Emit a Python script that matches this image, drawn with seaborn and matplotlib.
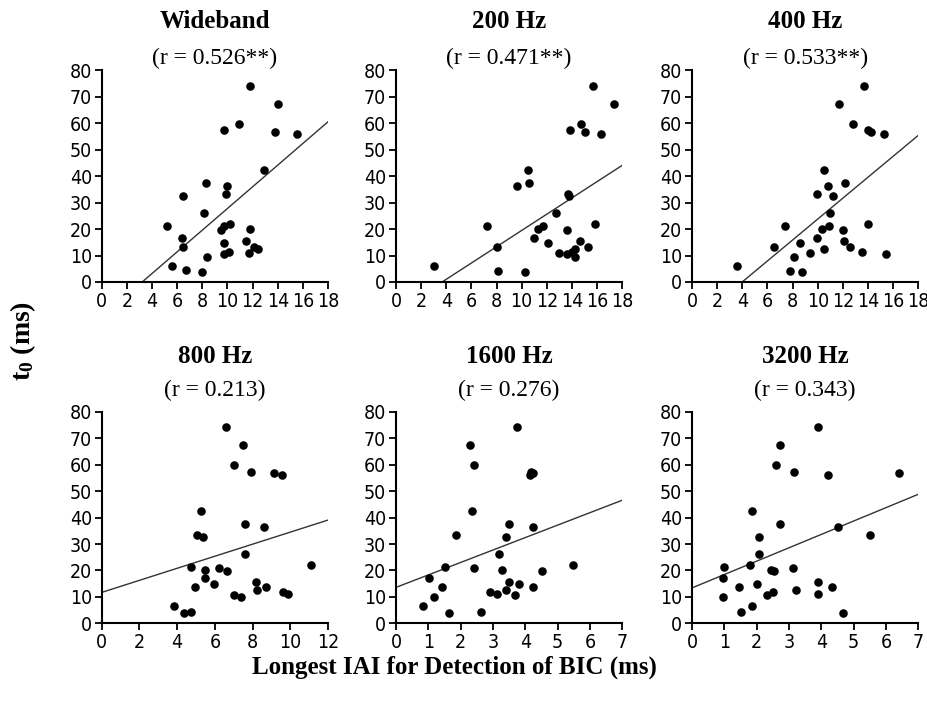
import numpy as np
import pandas as pd
import matplotlib
matplotlib.use("Agg")
import matplotlib.pyplot as plt
import seaborn as sns

# valori (IAI piu' lungo vs t0)
wideband_x = [5.2, 5.6, 6.5, 6.4, 6.5, 6.7, 8.3, 8.1, 8.0, 8.4, 9.7, 10.9, 11.8, 14.0, 13.8, 15.5, 12.9, 10.0, 9.9, 9.5,
              9.7, 10.2, 9.7, 9.7, 10.1, 11.8, 11.5, 11.7, 12.1, 12.4]
wideband_y = [21.3, 6.2, 32.7, 16.6, 13.4, 4.4, 37.3, 26.2, 3.8, 9.4, 57.3, 59.6, 74.3, 67.4, 56.8, 56.0, 42.4, 36.3, 33.2, 19.5,
              21.0, 21.9, 14.7, 10.7, 11.2, 19.9, 15.5, 11.0, 13.2, 12.5]

hz200_x = [3.0, 7.2, 8.0, 8.1, 9.65, 10.5, 10.6, 10.3, 11.0, 11.3, 11.7, 12.1, 12.7, 13.0, 13.6, 13.7, 13.75, 13.8, 13.6, 14.0,
           14.2, 14.2, 14.7, 15.0, 14.6, 15.3, 15.7, 15.8, 16.3, 17.3]
hz200_y = [6.2, 21.3, 13.4, 4.3, 36.3, 42.4, 37.3, 3.8, 16.6, 19.9, 21.0, 14.7, 26.2, 11.0, 19.5, 33.2, 32.7, 57.3, 10.7, 11.2,
           9.4, 12.5, 59.6, 56.8, 15.5, 13.2, 74.3, 21.9, 56.0, 67.4]

hz400_x = [3.6, 6.55, 7.4, 7.8, 8.1, 8.6, 8.75, 9.4, 9.95, 9.95, 10.35, 10.5, 10.5, 10.8, 10.9, 11.2, 11.0, 11.7, 12.0, 12.1,
           12.2, 12.55, 12.8, 13.7, 13.55, 14.0, 14.2, 14.0, 15.3, 15.4]
hz400_y = [6.2, 13.4, 21.3, 4.3, 9.4, 14.7, 3.8, 11.0, 33.2, 16.6, 19.9, 42.4, 12.5, 36.3, 21.0, 32.7, 26.2, 67.4, 19.5, 15.5,
           37.3, 13.2, 59.6, 74.3, 11.2, 57.3, 56.8, 21.9, 56.0, 10.7]

hz800_x = [3.85, 4.36, 4.76, 4.74, 4.94, 5.03, 5.24, 5.38, 5.5, 5.5, 5.94, 6.2, 6.58, 6.65, 7.0, 7.0, 7.4, 7.5, 7.6, 7.6,
           7.9, 8.2, 8.24, 8.73, 8.62, 9.14, 9.58, 9.6, 9.86, 11.1]
hz800_y = [6.5, 4.0, 4.3, 21.4, 13.6, 33.3, 42.5, 32.7, 17.0, 20.1, 14.8, 21.1, 74.4, 19.7, 59.7, 10.9, 9.8, 67.5, 37.4, 26.4,
           57.4, 15.7, 12.6, 13.6, 36.4, 56.8, 56.2, 11.7, 11.1, 22.1]

hz1600_x = [0.84, 1.02, 1.18, 1.41, 1.51, 1.63, 1.85, 2.3, 2.35, 2.4, 2.4, 2.63, 2.9, 3.12, 3.18, 3.29, 3.39, 3.39, 3.51, 3.51,
            3.67, 3.74, 3.79, 4.13, 4.18, 4.23, 4.23, 4.23, 4.51, 5.46]
hz1600_y = [6.5, 17.0, 9.8, 13.6, 21.4, 4.0, 33.3, 67.5, 42.5, 59.7, 21.1, 4.3, 11.7, 11.1, 26.4, 20.1, 32.7, 12.6, 37.4, 15.7,
            10.9, 74.4, 14.8, 56.2, 57.4, 56.8, 36.4, 13.6, 19.7, 22.1]

hz3200_x = [0.98, 0.96, 0.96, 1.46, 1.51, 1.85, 1.85, 1.8, 2.0, 2.06, 2.06, 2.32, 2.44, 2.49, 2.55, 2.6, 2.73, 2.73, 3.12, 3.16,
            3.22, 3.89, 3.89, 3.89, 4.22, 4.33, 4.5, 4.67, 5.49, 6.4]
hz3200_y = [21.4, 17.0, 9.8, 13.6, 4.3, 6.5, 42.5, 22.1, 14.8, 32.7, 26.4, 10.9, 20.1, 11.7, 19.7, 59.7, 67.5, 37.4, 21.1, 57.4,
            12.6, 74.4, 15.7, 11.1, 56.2, 13.6, 36.4, 4.0, 33.3, 56.8]

titles = ["Wideband", "200 Hz", "400 Hz", "800 Hz", "1600 Hz", "3200 Hz"]
r_values = ["0.526**", "0.471**", "0.533**", "0.213", "0.276", "0.343"]
# retta di regressione (intercetta, pendenza)
fit_intercept = [-13.2, -11.3, -15.8, 11.7, 13.6, 13.4]
fit_slope = [4.10, 3.08, 3.96, 2.28, 4.71, 5.06]
x_max = [18, 18, 18, 12, 7, 7]
x_step = [2, 2, 2, 2, 1, 1]

xs = [wideband_x, hz200_x, hz400_x, hz800_x, hz1600_x, hz3200_x]
ys = [wideband_y, hz200_y, hz400_y, hz800_y, hz1600_y, hz3200_y]

sns.set_style("ticks")
plt.rcParams['font.family'] = ['Liberation Serif', 'DejaVu Serif']
plt.rcParams['text.color'] = 'black'
plt.rcParams['mathtext.fontset'] = 'custom'
plt.rcParams['mathtext.rm'] = 'Liberation Serif:bold'
plt.rcParams['mathtext.it'] = 'Liberation Serif:bold'
plt.rcParams['mathtext.bf'] = 'Liberation Serif:bold'

fig = plt.figure(figsize=(9.28, 7.11), dpi=100)

lefts = [0.1096, 0.4267, 0.7457]
bottoms = [0.6034, 0.1233]
w, h = 0.2439, 0.2975

for i in range(6):
    ax = fig.add_axes([lefts[i % 3], bottoms[i // 3], w, h])
    df = pd.DataFrame({"x": xs[i], "y": ys[i]})
    sns.scatterplot(data=df, x="x", y="y", ax=ax, color="black", s=38, edgecolor="black",
                    linewidth=0, clip_on=False, zorder=3)
    line = pd.DataFrame({"x": [0, x_max[i]]})
    line["y"] = fit_intercept[i] + fit_slope[i] * line["x"]
    sns.lineplot(data=line, x="x", y="y", ax=ax, color="#333333", linewidth=1.0)

    ax.set_xlim(0, x_max[i])
    ax.set_ylim(0, 80)
    ax.set_xticks(np.arange(0, x_max[i] + 1, x_step[i]))
    ax.set_yticks(np.arange(0, 81, 10))
    ax.set_xlabel("")
    ax.set_ylabel("")
    sns.despine(ax=ax)
    for sp in ["left", "bottom"]:
        ax.spines[sp].set_linewidth(1.5)
        ax.spines[sp].set_color("black")
    ax.tick_params(direction="out", length=5, width=1.3, pad=2, labelsize=14, colors="black")
    for lab in ax.get_xticklabels() + ax.get_yticklabels():
        lab.set_family("DejaVu Sans")
        lab.set_stretch("condensed")
        lab.set_color("black")

    y1 = 1.232 if i < 3 else 1.26
    y2 = 1.055 if i < 3 else 1.10
    ax.text(0.5, y1, titles[i], transform=ax.transAxes, ha="center", va="center",
            fontsize=18, fontweight="bold", color="black")
    ax.text(0.5, y2, f"(r = {r_values[i]})", transform=ax.transAxes, ha="center", va="center",
            fontsize=17, color="black")

fig.text(0.025, 0.52, "t$_0$ (ms)", rotation=90, ha="center", va="center",
         fontsize=20, fontweight="bold", color="black")
fig.text(0.49, 0.062, "Longest IAI for Detection of BIC (ms)", ha="center", va="center",
         fontsize=18, fontweight="bold", color="black")

fig.savefig("out.png", dpi=100)
